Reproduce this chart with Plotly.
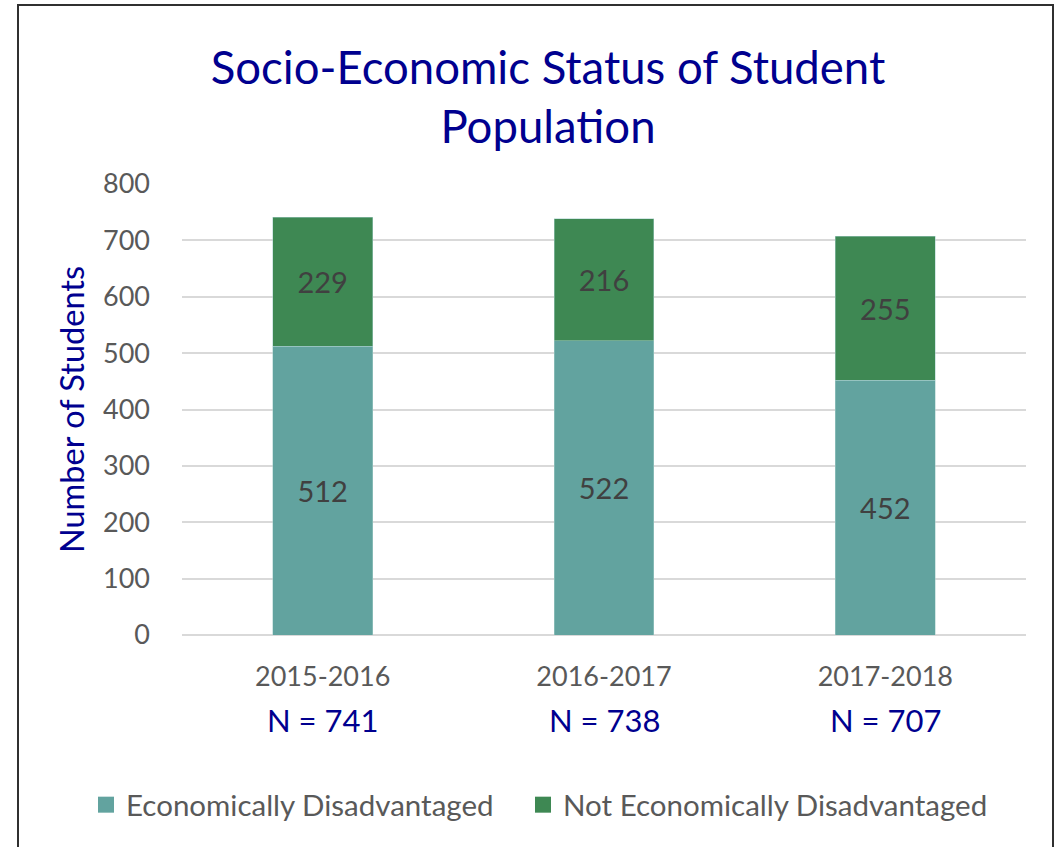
import plotly.graph_objects as go

categories = ["2015-2016", "2016-2017", "2017-2018"]
econ_disadv = [512, 522, 452]
not_econ_disadv = [229, 216, 255]
series_names = ["Economically Disadvantaged", "Not Economically Disadvantaged"]
series_colors = ["#62A39F", "#3E8853"]
y_ticks = [0, 100, 200, 300, 400, 500, 600, 700, 800]

totals = [a + b for a, b in zip(econ_disadv, not_econ_disadv)]

FONT = "Lato"
GRAY = "#595959"
NAVY = "#00008F"
W, H = 1055, 847
L, R, T, B = 182, 29, 184, 212
pw, ph = W - L - R, H - T - B


def px_x(x):
    return (x - L) / pw


def px_y(y):
    return (T + ph - y) / ph


fig = go.Figure()
for vals, name, color in zip([econ_disadv, not_econ_disadv], series_names, series_colors):
    fig.add_trace(go.Bar(
        x=categories, y=vals, name=name, showlegend=False,
        marker=dict(color=color, line=dict(color="#A8CFCB", width=0.5)),
        text=[str(v) for v in vals], textposition="inside",
        insidetextanchor="middle", textangle=0,
        textfont=dict(family=FONT, size=29, color="#404040"),
    ))
legend_ids = ["legend", "legend2"]
for name, color, lg in zip(series_names, series_colors, legend_ids):
    fig.add_trace(go.Scatter(
        x=[None], y=[None], mode="markers", name=name, legend=lg,
        marker=dict(symbol="square", size=17, color=color),
    ))

annotations = []
for c, n in zip(categories, totals):
    annotations.append(dict(
        x=c, xref="x", y=px_y(720), yref="paper",
        text=f"N = {n}", showarrow=False, yanchor="middle",
        font=dict(family=FONT, size=31, color=NAVY),
    ))

legend_style = dict(
    orientation="h", xanchor="left", y=px_y(805), yanchor="middle",
    font=dict(family=FONT, size=29.5, color=GRAY),
    itemsizing="trace", bgcolor="rgba(0,0,0,0)",
)

fig.update_layout(
    width=W, height=H,
    margin=dict(l=L, r=R, t=T, b=B, autoexpand=False),
    barmode="stack", bargap=0.645,
    plot_bgcolor="white", paper_bgcolor="white",
    title=dict(
        text="Socio-Economic Status of Student<br>Population",
        x=548 / W, xanchor="center", xref="container",
        y=1 - 84 / H, yanchor="middle", yref="container",
        font=dict(family=FONT, size=45.5, color=NAVY),
    ),
    font=dict(family=FONT, color=GRAY),
    xaxis=dict(
        tickfont=dict(family=FONT, size=27, color=GRAY),
        showgrid=False, showline=False, ticks="", ticklabelstandoff=23,
    ),
    yaxis=dict(
        range=[0, 800], tickvals=y_ticks,
        tickfont=dict(family=FONT, size=27, color=GRAY),
        gridcolor="#D9D9D9", gridwidth=1.5, zeroline=True,
        zerolinecolor="#D9D9D9", zerolinewidth=1.5,
        showline=False, ticks="", ticklabelstandoff=31,
        title=dict(text="Number of Students", standoff=8,
                   font=dict(family=FONT, size=32.5, color=NAVY)),
    ),
    legend=dict(x=px_x(86), **legend_style),
    legend2=dict(x=px_x(523), **legend_style),
    annotations=annotations,
    shapes=[dict(
        type="rect", xref="paper", yref="paper",
        x0=px_x(18), x1=px_x(1053), y0=px_y(5), y1=px_y(860),
        line=dict(color="#303030", width=2), fillcolor="rgba(0,0,0,0)",
    )],
    showlegend=True,
)

fig.write_html("out.html", config={"displayModeBar": False},
               post_script="document.body.style.margin='0';")
